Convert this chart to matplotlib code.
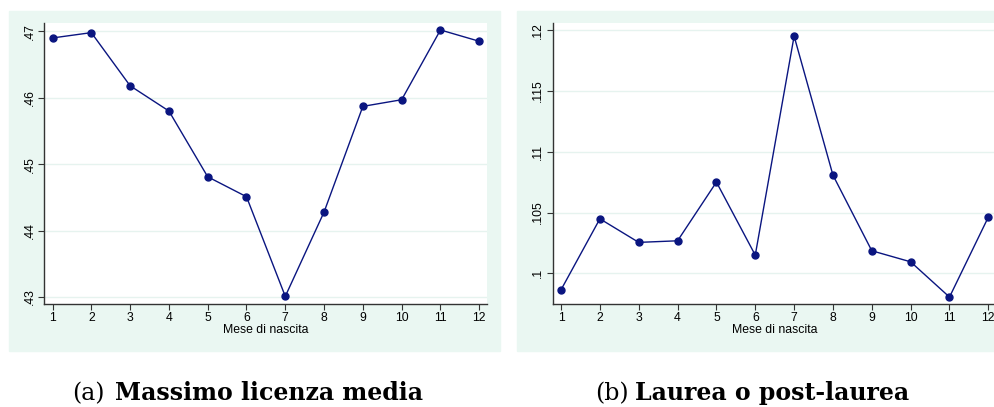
"""Mese di nascita: due pannelli in stile Stata"""

import matplotlib
matplotlib.use("Agg")
import matplotlib.pyplot as plt
from matplotlib.patches import Rectangle

mesi = [1, 2, 3, 4, 5, 6, 7, 8, 9, 10, 11, 12]
licenza_media = [.4690, .4698, .4618, .4580, .4481, .4451, .4301,
                 .4428, .4587, .4597, .4702, .4685]
laurea = [.09865, .10449, .10255, .10268, .10751, .1015, .11952,
          .10808, .10186, .10095, .09805, .10463]

ticks_a = [.43, .44, .45, .46, .47]
labels_a = [".43", ".44", ".45", ".46", ".47"]
ticks_b = [.1, .105, .11, .115, .12]
labels_b = [".1", ".105", ".11", ".115", ".12"]

sigle = ["(a)", "(b)"]
titoli = ["Massimo licenza media", "Laurea o post-laurea"]

plt.rcParams["font.family"] = "Liberation Sans"

W, H = 995, 407
fig = plt.figure(figsize=(W / 100, H / 100), dpi=100)

bg = "#eaf7f2"
navy = "#0a1580"

# sfondi dei due grafici
fig.patches.append(Rectangle((9 / W, 1 - 351 / H), 491 / W, 340 / H,
                             transform=fig.transFigure, color=bg, zorder=-5))
fig.patches.append(Rectangle((517 / W, 1 - 351 / H), 480 / W, 340 / H,
                             transform=fig.transFigure, color=bg, zorder=-5))


def pannello(rect, y, ticks, labels, ylim):
    ax = fig.add_axes(rect)
    ax.plot(mesi, y, color=navy, lw=1.0, marker="o", ms=5,
            markerfacecolor=navy, markeredgecolor=navy, zorder=3)
    ax.set_xlim(0.78, 12.2)
    ax.set_ylim(*ylim)
    ax.set_xticks(mesi)
    ax.set_yticks(ticks)
    ax.set_yticklabels(labels, rotation=90, va="center")
    ax.grid(axis="y", color="#e6f3ef", lw=1.0)
    ax.set_axisbelow(True)
    for s in ["top", "right"]:
        ax.spines[s].set_visible(False)
    for s in ["left", "bottom"]:
        ax.spines[s].set_color("#333333")
        ax.spines[s].set_linewidth(1.0)
    ax.tick_params(labelsize=8.8, length=4, width=0.8, color="#333333", pad=2)
    ax.set_xlabel("Mese di nascita", fontsize=8.8, labelpad=0)
    return ax


pannello([44 / W, 1 - 304 / H, 443 / W, 281 / H], licenza_media,
         ticks_a, labels_a, (.42895, .47125))
pannello([552.5 / W, 1 - 304 / H, 443.6 / W, 281 / H], laurea,
         ticks_b, labels_b, (.09748, .1206))

base = 1 - 400 / H
for sigla, titolo, xs, xt in zip(sigle, titoli, [72, 595], [115, 635]):
    fig.text(xs / W, base, sigla, ha="left", va="baseline",
             family="DejaVu Serif", fontsize=17)
    fig.text(xt / W, base, titolo, ha="left", va="baseline",
             family="DejaVu Serif", fontweight="bold", fontsize=17)

plt.savefig("out.png", dpi=100)
